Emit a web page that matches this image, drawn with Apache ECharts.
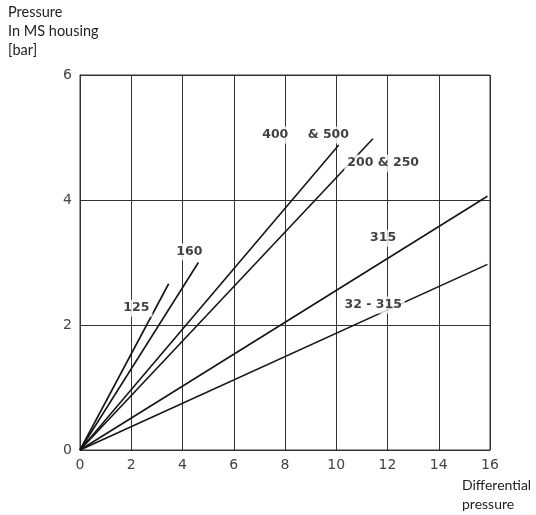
<!DOCTYPE html>
<html>
<head>
<meta charset="utf-8">
<script src="https://cdn.jsdelivr.net/npm/echarts@6/dist/echarts.min.js"></script>
<style>
  html, body { margin: 0; padding: 0; background: #fff; }
  #chart { width: 536px; height: 515px; }
</style>
</head>
<body>
<div id="chart"></div>
<script>
// lines all start at the origin, end points
const lineNames = ['125', '160', '400 & 500', '200 & 250', '315', '32 - 315']
const lineEndX = [3.46, 4.62, 10.1, 11.43, 15.9, 15.9]
const lineEndY = [2.66, 3.0, 4.88, 4.98, 4.06, 2.97]

// curve labels (data coords of label centre)
const labelText = ['125', '160', '400', '& 500', '200 & 250', '315', '32 - 315']
const labelX = [2.2, 4.27, 7.62, 9.69, 11.83, 11.83, 11.44]
const labelY = [2.27, 3.17, 5.04, 5.04, 4.59, 3.39, 2.32]

const xTicks = { min: 0, max: 16, interval: 2 }
const yTicks = { min: 0, max: 6, interval: 2 }

const myChart = echarts.init(document.getElementById('chart'))

const lineSeries = lineNames.map(function (name, i) {
  return {
    name: name,
    type: 'line',
    data: [[0, 0], [lineEndX[i], lineEndY[i]]],
    symbol: 'none',
    silent: true,
    z: 3,
    lineStyle: { color: '#151515', width: 1.6 }
  }
})

const labelSeries = {
  type: 'scatter',
  symbolSize: 0,
  silent: true,
  z: 5,
  data: labelText.map(function (t, i) { return [labelX[i], labelY[i], t] }),
  label: {
    show: true,
    position: 'inside',
    formatter: function (p) { return p.data[2] },
    fontFamily: 'DejaVu Sans',
    fontWeight: 'bold',
    fontSize: 12.5,
    color: '#111',
    backgroundColor: '#fff',
    padding: [2, 3]
  }
}

const tickLabel = {
  fontFamily: 'DejaVu Sans',
  fontSize: 14,
  color: '#444'
}

myChart.setOption({
  animation: false,
  title: [{
    text: 'Pressure\nIn MS housing\n[bar]',
    left: 8,
    top: 3,
    padding: 0,
    textStyle: { fontFamily: 'Lato', fontWeight: 'normal', fontSize: 14.5, lineHeight: 19, color: '#222' }
  }, {
    text: 'Differential\npressure',
    left: 462,
    top: 476,
    padding: 0,
    textStyle: { fontFamily: 'Lato', fontWeight: 'normal', fontSize: 14, lineHeight: 19, color: '#222' }
  }],
  grid: {
    left: 80,
    right: 46,
    top: 75,
    bottom: 65,
    show: true,
    borderColor: '#333',
    borderWidth: 1
  },
  xAxis: {
    type: 'value',
    min: xTicks.min,
    max: xTicks.max,
    interval: xTicks.interval,
    axisLine: { show: true, lineStyle: { color: '#333', width: 1 } },
    axisTick: { show: false },
    axisLabel: Object.assign({ margin: 8 }, tickLabel),
    splitLine: { show: true, lineStyle: { color: '#333', width: 1 } }
  },
  yAxis: {
    type: 'value',
    min: yTicks.min,
    max: yTicks.max,
    interval: yTicks.interval,
    axisLine: { show: true, lineStyle: { color: '#333', width: 1 } },
    axisTick: { show: false },
    axisLabel: Object.assign({ margin: 8 }, tickLabel),
    splitLine: { show: true, lineStyle: { color: '#333', width: 1 } }
  },
  series: lineSeries.concat([labelSeries])
})
</script>
</body>
</html>
